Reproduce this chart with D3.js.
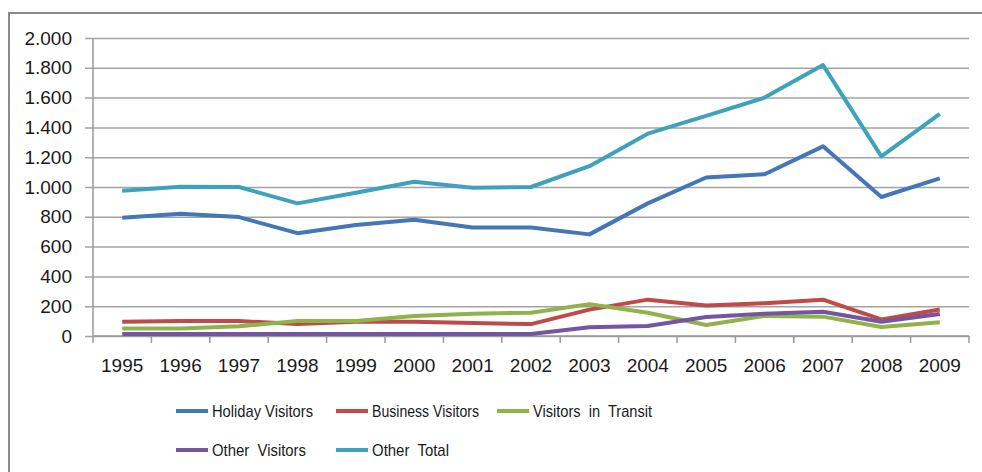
<!DOCTYPE html>
<html>
<head>
<meta charset="utf-8">
<script src="https://cdn.jsdelivr.net/npm/d3@7"></script>
<style>
  body { margin: 0; background: #fff; }
  text { font-family: "Liberation Sans", Arial, sans-serif; fill: #1a1a1a; }
</style>
</head>
<body>
<div id="chart"></div>
<script>
// chart data
var years = ["1995","1996","1997","1998","1999","2000","2001","2002","2003","2004","2005","2006","2007","2008","2009"];
var holidayVisitors  = [794, 820, 798, 690, 745, 780, 728, 728, 682, 890, 1064, 1086, 1273, 933, 1058];
var businessVisitors = [95, 100, 100, 80, 95, 95, 87, 80, 177, 244, 205, 220, 244, 111, 178];
var visitorsInTransit = [50, 50, 65, 100, 100, 135, 150, 156, 214, 156, 74, 135, 130, 60, 93];
var otherVisitors    = [14, 14, 14, 14, 14, 14, 14, 14, 58, 67, 128, 150, 163, 95, 147];
var otherTotal       = [975, 1002, 1000, 890, 962, 1035, 995, 1000, 1140, 1358, 1477, 1600, 1818, 1206, 1490];
var seriesNames = ["Holiday Visitors", "Business Visitors", "Visitors  in  Transit", "Other  Visitors", "Other  Total"];
var yTicks = [0, 200, 400, 600, 800, 1000, 1200, 1400, 1600, 1800, 2000];

var series = [holidayVisitors, businessVisitors, visitorsInTransit, otherVisitors, otherTotal];
var colors = ["#4576b5", "#be4b48", "#8fb24a", "#7554a0", "#3fa2bd"];

const width = 982, height = 472;
const plot = {left: 93, right: 969, top: 38, bottom: 336};

const svg = d3.select("#chart").append("svg")
  .attr("width", width)
  .attr("height", height);

// outer frame (runs off the right and bottom edges)
svg.append("rect")
  .attr("x", 9).attr("y", 13)
  .attr("width", width + 20).attr("height", height + 20)
  .attr("fill", "none")
  .attr("stroke", "#8a8a8a")
  .attr("stroke-width", 2);

const xBand = d3.scaleBand().domain(years).range([plot.left, plot.right]);
const y = d3.scaleLinear().domain([0, 2000]).range([plot.bottom, plot.top]);

const fmt = d3.formatLocale({decimal: ",", thousands: ".", grouping: [3], currency: ["", ""]}).format(",d");

// gridlines + y axis
const yAxis = d3.axisLeft(y)
  .tickValues(yTicks)
  .tickFormat(fmt)
  .tickSize(plot.right - plot.left + 8)
  .tickPadding(13);

const yG = svg.append("g")
  .attr("transform", "translate(" + plot.right + ",0)")
  .call(yAxis);
yG.select(".domain").remove();
yG.selectAll("line").attr("stroke", "#a3a3a3").attr("stroke-width", 1.5);
yG.selectAll("text").style("font-size", "19px").attr("fill", "#1a1a1a");

// y axis line
svg.append("line")
  .attr("x1", plot.left).attr("x2", plot.left)
  .attr("y1", y(2000)).attr("y2", plot.bottom)
  .attr("stroke", "#9a9a9a").attr("stroke-width", 1.5);

// x axis, ticks between categories
const xAxisG = svg.append("g").attr("transform", "translate(0," + plot.bottom + ")");
xAxisG.append("line")
  .attr("x1", plot.left).attr("x2", plot.right)
  .attr("stroke", "#9a9a9a").attr("stroke-width", 1.5);
xAxisG.selectAll(".tk")
  .data(years.concat(["end"]))
  .enter().append("line")
  .attr("class", "tk")
  .attr("x1", function(d, i) { return i < years.length ? xBand(d) : plot.right; })
  .attr("x2", function(d, i) { return i < years.length ? xBand(d) : plot.right; })
  .attr("y1", 0).attr("y2", 7)
  .attr("stroke", "#9a9a9a").attr("stroke-width", 1.5);
xAxisG.selectAll(".lbl")
  .data(years)
  .enter().append("text")
  .attr("class", "lbl")
  .attr("x", function(d) { return xBand(d) + xBand.bandwidth() / 2; })
  .attr("y", 36)
  .attr("text-anchor", "middle")
  .style("font-size", "19px")
  .text(function(d) { return d; });

// lines
const line = d3.line()
  .x(function(d, i) { return xBand(years[i]) + xBand.bandwidth() / 2; })
  .y(function(d) { return y(d); });

const drawOrder = [4, 0, 1, 2, 3];
drawOrder.forEach(function(k) {
  svg.append("path")
    .datum(series[k])
    .attr("d", line)
    .attr("fill", "none")
    .attr("stroke", colors[k])
    .attr("stroke-width", 4)
    .attr("stroke-linejoin", "round");
});

// legend
const legendPos = [
  {x: 176, y: 411, w: 101},
  {x: 336, y: 411, w: 107},
  {x: 497, y: 411, w: 119},
  {x: 176, y: 450, w: 94},
  {x: 336, y: 450, w: 77}
];
const legend = svg.selectAll(".legend")
  .data(seriesNames)
  .enter().append("g")
  .attr("class", "legend")
  .attr("transform", function(d, i) { return "translate(" + legendPos[i].x + "," + legendPos[i].y + ")"; });
legend.append("line")
  .attr("x1", 0).attr("x2", 32)
  .attr("stroke", function(d, i) { return colors[i]; })
  .attr("stroke-width", 4);
legend.append("text")
  .attr("x", 36)
  .attr("y", 6)
  .style("font-size", "17px")
  .style("white-space", "pre")
  .attr("textLength", function(d, i) { return legendPos[i].w; })
  .attr("lengthAdjust", "spacingAndGlyphs")
  .text(function(d) { return d; });
</script>
</body>
</html>
